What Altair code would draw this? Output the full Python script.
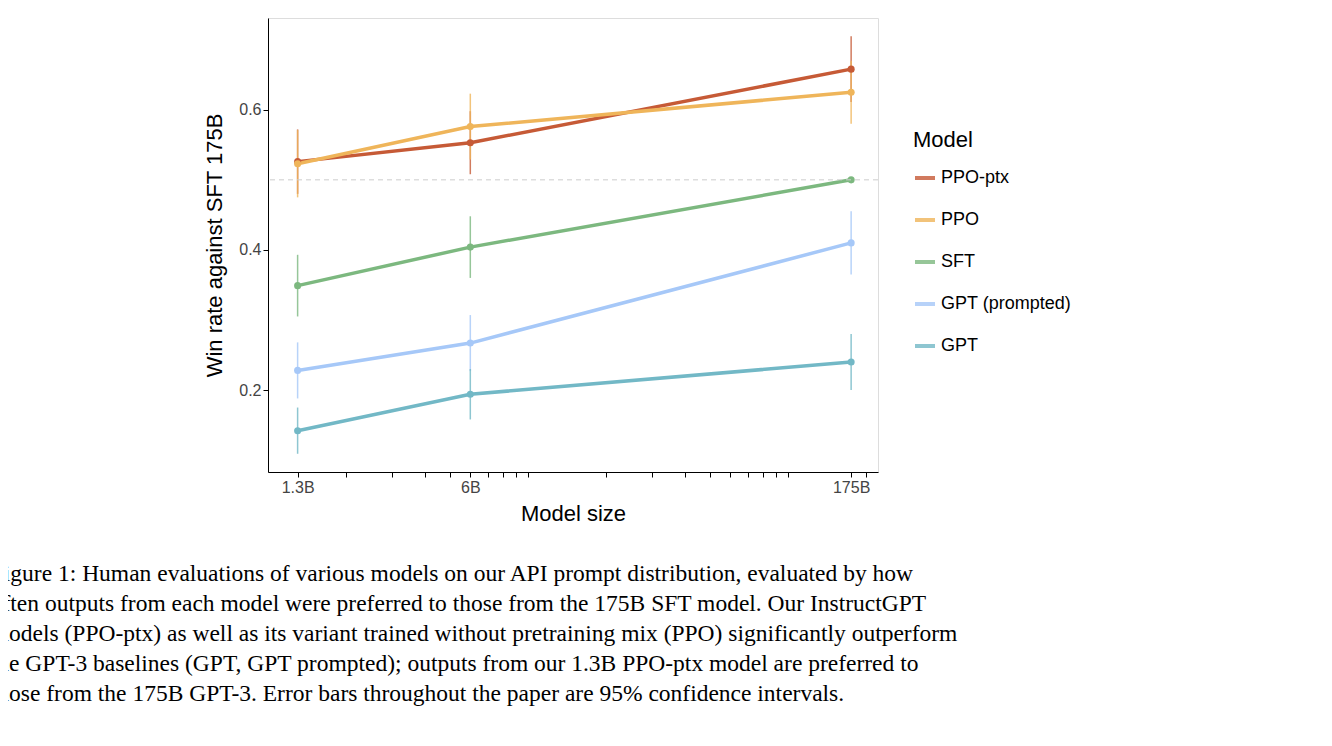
import altair as alt
import pandas as pd

models = ["PPO-ptx", "PPO", "SFT", "GPT (prompted)", "GPT"]
colors = ["#c65a36", "#efb55a", "#7cb87f", "#a6c8f8", "#72b8c6"]
sizes = [1.3, 6, 175]
win = {
    "PPO-ptx": [0.526, 0.553, 0.658],
    "PPO": [0.523, 0.576, 0.625],
    "SFT": [0.349, 0.404, 0.500],
    "GPT (prompted)": [0.228, 0.267, 0.410],
    "GPT": [0.142, 0.194, 0.240],
}
err = {
    "PPO-ptx": [0.046, 0.045, 0.047],
    "PPO": [0.048, 0.047, 0.045],
    "SFT": [0.044, 0.044, 0.0],
    "GPT (prompted)": [0.040, 0.040, 0.045],
    "GPT": [0.033, 0.036, 0.040],
}
tick_vals = [1.3, 2, 3, 4, 5, 6, 7, 8, 9, 10, 20, 30, 40, 50, 60, 70, 80, 90, 100, 175, 200]
caption = [
    "Figure 1: Human evaluations of various models on our API prompt distribution, evaluated by how",
    "often outputs from each model were preferred to those from the 175B SFT model. Our InstructGPT",
    "models (PPO-ptx) as well as its variant trained without pretraining mix (PPO) significantly outperform",
    "the GPT-3 baselines (GPT, GPT prompted); outputs from our 1.3B PPO-ptx model are preferred to",
    "those from the 175B GPT-3. Error bars throughout the paper are 95% confidence intervals.",
]

rows = []
for m in models:
    for s, v, e in zip(sizes, win[m], err[m]):
        rows.append({"Model": m, "size": s, "win": v, "lo": v - e, "hi": v + e})
df = pd.DataFrame(rows)

x = alt.X("size:Q", title="Model size",
          scale=alt.Scale(type="log", domain=[1.0, 222], nice=False),
          axis=alt.Axis(values=tick_vals, grid=False, tickSize=5, domainColor="black",
                        tickColor="black",
                        labelExpr="indexof([1.3,6,175], datum.value) >= 0 ? format(datum.value, '') + 'B' : ''",
                        labelFontSize=16, labelColor="#444", titleFontSize=22,
                        titleFontWeight="normal", titleColor="black", labelFont="Liberation Sans",
                        titleFont="Liberation Sans", labelFlush=False, labelOverlap=False, titlePadding=8))
y = alt.Y("win:Q", title="Win rate against SFT 175B",
          scale=alt.Scale(domain=[0.083, 0.731], nice=False, zero=False),
          axis=alt.Axis(values=[0.2, 0.4, 0.6], format=".1f", grid=False, tickSize=5,
                        domainColor="black", tickColor="black", labelFontSize=16, labelColor="#444",
                        titleFontSize=22, titleFontWeight="normal", titleColor="black",
                        labelFont="Liberation Sans", titleFont="Liberation Sans", titlePadding=12))
color = alt.Color("Model:N", scale=alt.Scale(domain=models, range=colors),
                  legend=alt.Legend(orient="none", legendX=645, legendY=112, title="Model",
                                    titleFontSize=22, titleFontWeight="normal", labelFontSize=18,
                                    titleFont="Liberation Sans", labelFont="Liberation Sans",
                                    titleColor="black", labelColor="black",
                                    symbolType="stroke", symbolStrokeWidth=4, symbolSize=400,
                                    rowPadding=21, titlePadding=14))

base = alt.Chart(df)
ref = alt.Chart(pd.DataFrame({"y": [0.5]})).mark_rule(color="#ccc", strokeDash=[5, 4], strokeWidth=1).encode(
    y=alt.Y("y:Q", scale=alt.Scale(domain=[0.083, 0.731], nice=False, zero=False)))
bars = base.mark_rule(strokeWidth=1.5, opacity=0.8).encode(x=x, y="lo:Q", y2="hi:Q", color=color)
lines = base.mark_line(strokeWidth=3.5).encode(x=x, y=y, color=color)
pts = base.mark_point(filled=True, size=50, opacity=1).encode(x=x, y=y, color=color)

chart = alt.layer(bars, lines, pts, ref).properties(
    width=610, height=454,
    autosize=alt.AutoSizeParams(type="none"),
    padding={"left": 260, "top": 10, "right": 446, "bottom": 266},
    title=alt.TitleParams(text=caption, orient="bottom", anchor="start", dx=-213, offset=38,
                          font="Liberation Serif", fontSize=23.5, fontWeight="normal",
                          color="black", lineHeight=30),
).configure_view(stroke=None).configure(background="white")

chart.save("out.html", embed_options={"renderer": "svg", "actions": False})
